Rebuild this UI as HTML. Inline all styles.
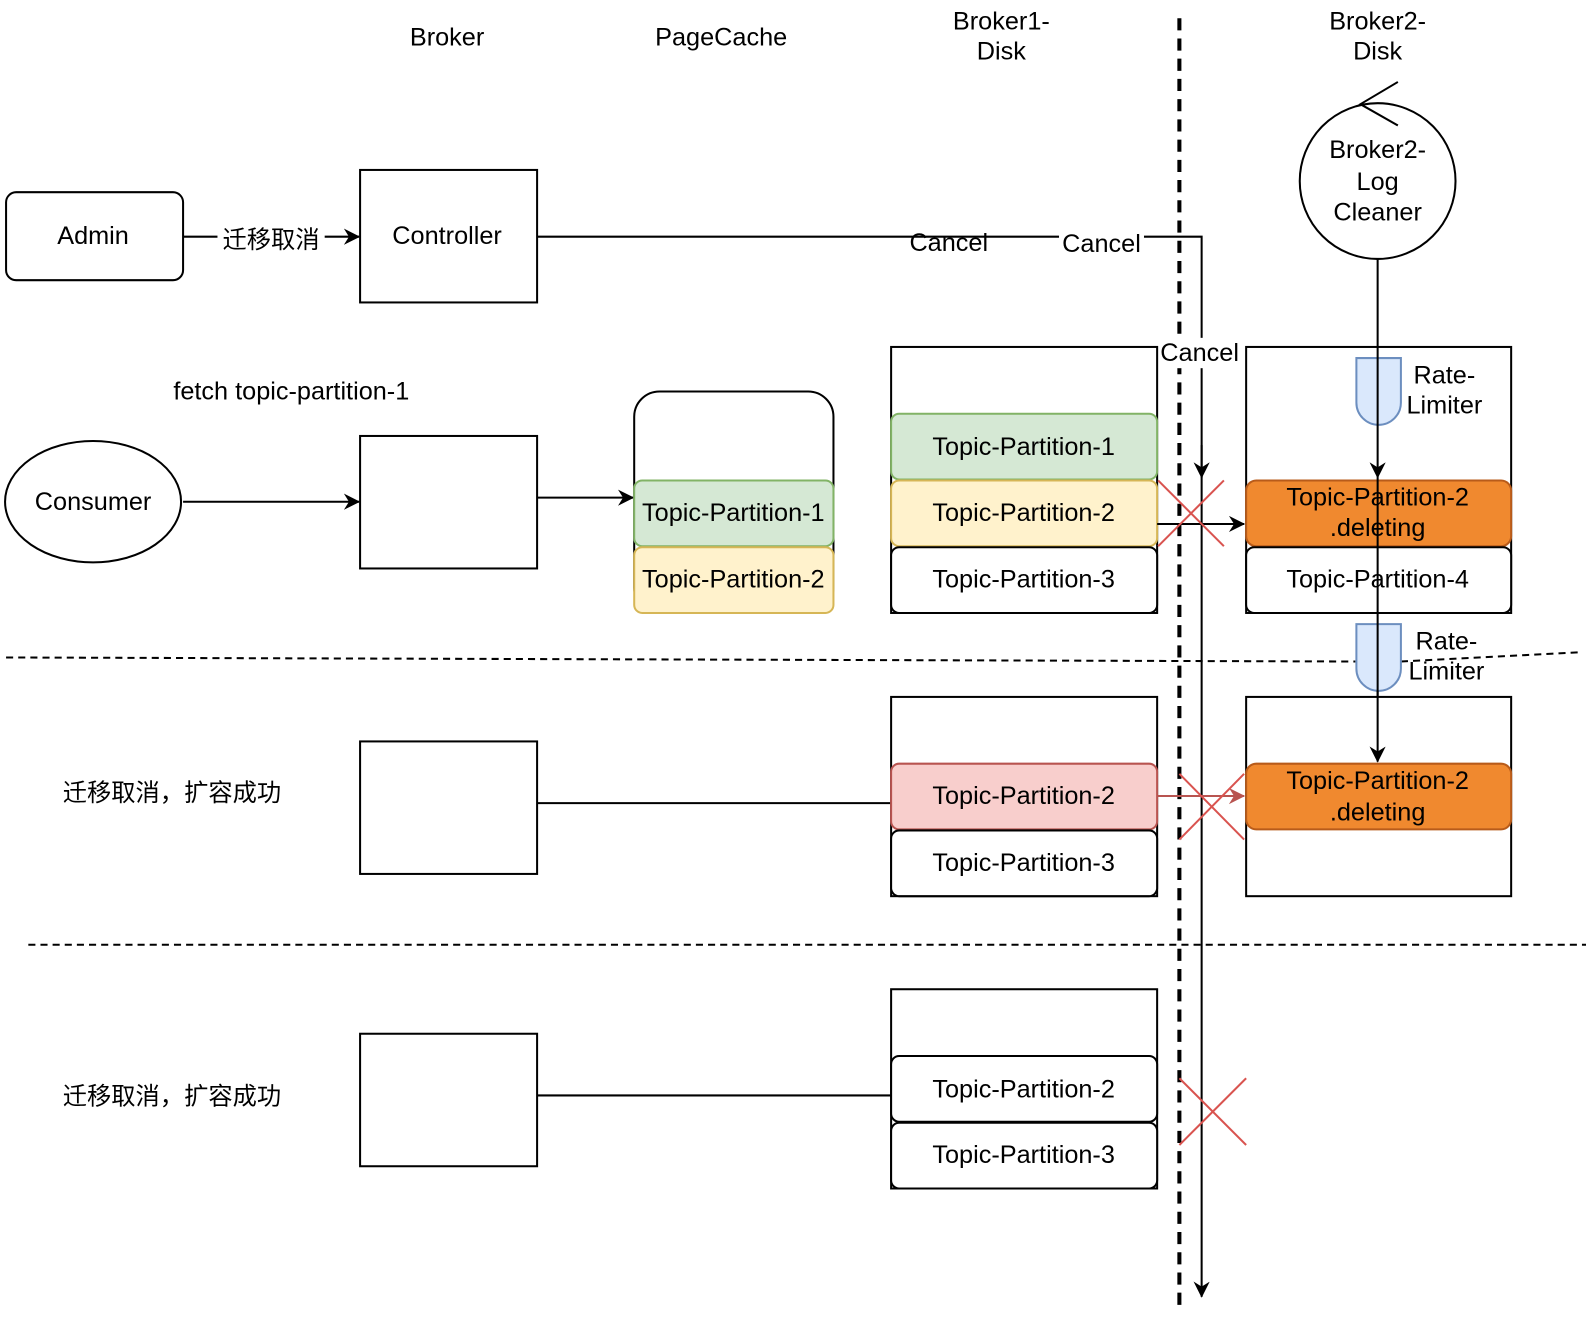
<!DOCTYPE html>
<html><head><meta charset="utf-8"><style>
html,body{margin:0;padding:0;background:#fff;}
svg{display:block;}
text{font-family:"Liberation Sans","Noto Sans CJK SC",sans-serif;font-size:25px;fill:#000;}
.cn{font-size:24px;}
</style></head><body>
<svg width="1586" height="1320" viewBox="0 0 1568 1305" xmlns="http://www.w3.org/2000/svg">
<defs>
<marker id="a" markerWidth="18" markerHeight="18" refX="15" refY="8" orient="auto" markerUnits="userSpaceOnUse"><path d="M0,0 L16,8 L0,16 L5,8 Z" fill="#000"/></marker>
<marker id="r" markerWidth="18" markerHeight="18" refX="15" refY="8" orient="auto" markerUnits="userSpaceOnUse"><path d="M0,0 L16,8 L0,16 L5,8 Z" fill="#b85450"/></marker>
</defs>
<g text-anchor="middle">
<text x="442" y="45">Broker</text>
<text x="713" y="45">PageCache</text>
<text x="990" y="29">Broker1-</text><text x="990" y="59">Disk</text>
<text x="1362" y="29">Broker2-</text><text x="1362" y="59">Disk</text>
</g>
<line x1="1166" y1="18" x2="1166" y2="1295" stroke="#000" stroke-width="4" stroke-dasharray="12,8"/>
<line x1="6" y1="650" x2="1340" y2="654" stroke="#000" stroke-width="2" stroke-dasharray="7,5"/>
<line x1="1385" y1="654" x2="1560" y2="645" stroke="#000" stroke-width="2" stroke-dasharray="7,5"/>
<line x1="28" y1="934" x2="1568" y2="934" stroke="#000" stroke-width="2" stroke-dasharray="7,5"/>

<rect x="6" y="190" width="175" height="87" rx="10" fill="#fff" stroke="#000" stroke-width="2"/>
<text x="92" y="241" text-anchor="middle">Admin</text>
<line x1="181" y1="234" x2="355" y2="234" stroke="#000" stroke-width="2" marker-end="url(#a)"/>
<rect x="215" y="222" width="106" height="28" fill="#fff"/>
<text class="cn" x="268" y="245" text-anchor="middle">迁移取消</text>
<rect x="356" y="168" width="175" height="131" fill="#fff" stroke="#000" stroke-width="2"/>
<text x="442" y="241" text-anchor="middle">Controller</text>

<polyline points="531,234 1188,234 1188,1282" fill="none" stroke="#000" stroke-width="2" marker-end="url(#a)"/>
<line x1="1188" y1="440" x2="1188" y2="472" stroke="#000" stroke-width="2" marker-end="url(#a)"/>
<text x="938" y="248" text-anchor="middle">Cancel</text>
<rect x="1047" y="226" width="84" height="28" fill="#fff"/>
<text x="1089" y="249" text-anchor="middle">Cancel</text>
<rect x="1144" y="334" width="84" height="30" fill="#fff"/>
<text x="1186" y="357" text-anchor="middle">Cancel</text>

<circle cx="1362" cy="179" r="77" fill="#fff" stroke="#000" stroke-width="2"/>
<polyline points="1382,81 1345,103 1382,124" fill="none" stroke="#000" stroke-width="2"/>
<g text-anchor="middle"><text x="1362" y="156">Broker2-</text><text x="1362" y="188">Log</text><text x="1362" y="218">Cleaner</text></g>

<text x="288" y="395" text-anchor="middle">fetch topic-partition-1</text>
<ellipse cx="92" cy="496" rx="87" ry="60" fill="#fff" stroke="#000" stroke-width="2"/>
<text x="92" y="504" text-anchor="middle">Consumer</text>
<line x1="181" y1="496" x2="355" y2="496" stroke="#000" stroke-width="2" marker-end="url(#a)"/>
<rect x="356" y="431" width="175" height="131" fill="#fff" stroke="#000" stroke-width="2"/>
<line x1="531" y1="492" x2="626" y2="492" stroke="#000" stroke-width="2" marker-end="url(#a)"/>

<rect x="627" y="387" width="197" height="219" rx="25" fill="#fff" stroke="#000" stroke-width="2"/>
<rect x="627" y="475" width="197" height="65" rx="8" fill="#d5e8d4" stroke="#82b366" stroke-width="2"/>
<rect x="627" y="541" width="197" height="65" rx="8" fill="#fff2cc" stroke="#d6b656" stroke-width="2"/>
<g text-anchor="middle"><text x="725" y="515">Topic-Partition-1</text><text x="725" y="581">Topic-Partition-2</text></g>

<rect x="881" y="343" width="263" height="263" fill="#fff" stroke="#000" stroke-width="2"/>
<rect x="881" y="409" width="263" height="65" rx="8" fill="#d5e8d4" stroke="#82b366" stroke-width="2"/>
<rect x="881" y="475" width="263" height="65" rx="8" fill="#fff2cc" stroke="#d6b656" stroke-width="2"/>
<rect x="881" y="541" width="263" height="65" rx="8" fill="#fff" stroke="#000" stroke-width="2"/>
<g text-anchor="middle"><text x="1012" y="450">Topic-Partition-1</text><text x="1012" y="515">Topic-Partition-2</text><text x="1012" y="581">Topic-Partition-3</text></g>
<line x1="1144" y1="518" x2="1230" y2="518" stroke="#000" stroke-width="2" marker-end="url(#a)"/>
<line x1="1145" y1="475" x2="1210" y2="540" stroke="#d9534f" stroke-width="2"/>
<line x1="1210" y1="475" x2="1145" y2="540" stroke="#d9534f" stroke-width="2"/>

<rect x="1232" y="343" width="262" height="263" fill="#fff" stroke="#000" stroke-width="2"/>
<rect x="1232" y="475" width="262" height="65" rx="10" fill="#f0892f" stroke="#b85b1a" stroke-width="2"/>
<rect x="1232" y="541" width="262" height="65" rx="8" fill="#fff" stroke="#000" stroke-width="2"/>
<g text-anchor="middle"><text x="1362" y="500">Topic-Partition-2</text><text x="1362" y="530">.deleting</text><text x="1362" y="581">Topic-Partition-4</text></g>
<path d="M1341,354 H1385 V398 A22,22 0 0 1 1341,398 Z" fill="#dae8fc" stroke="#6c8ebf" stroke-width="2"/>
<path d="M1341,617 H1385 V661 A22,22 0 0 1 1341,661 Z" fill="#dae8fc" stroke="#6c8ebf" stroke-width="2"/>
<line x1="1362" y1="256" x2="1362" y2="472" stroke="#000" stroke-width="2" marker-end="url(#a)"/>
<line x1="1362" y1="472" x2="1362" y2="753" stroke="#000" stroke-width="2" marker-end="url(#a)"/>
<g text-anchor="middle"><text x="1428" y="379">Rate-</text><text x="1428" y="409">Limiter</text><text x="1430" y="642">Rate-</text><text x="1430" y="672">Limiter</text></g>

<text class="cn" x="170" y="792" text-anchor="middle">迁移取消，扩容成功</text>
<rect x="356" y="733" width="175" height="131" fill="#fff" stroke="#000" stroke-width="2"/>
<line x1="531" y1="794" x2="881" y2="794" stroke="#000" stroke-width="2"/>
<rect x="881" y="689" width="263" height="197" fill="#fff" stroke="#000" stroke-width="2"/>
<rect x="881" y="755" width="263" height="65" rx="8" fill="#f8cecc" stroke="#b85450" stroke-width="2"/>
<rect x="881" y="821" width="263" height="65" rx="8" fill="#fff" stroke="#000" stroke-width="2"/>
<g text-anchor="middle"><text x="1012" y="795">Topic-Partition-2</text><text x="1012" y="861">Topic-Partition-3</text></g>
<line x1="1144" y1="787" x2="1230" y2="787" stroke="#b85450" stroke-width="2" marker-end="url(#r)"/>
<line x1="1166" y1="765" x2="1230" y2="830" stroke="#d9534f" stroke-width="2"/>
<line x1="1230" y1="765" x2="1166" y2="830" stroke="#d9534f" stroke-width="2"/>
<rect x="1232" y="689" width="262" height="197" fill="#fff" stroke="#000" stroke-width="2"/>
<rect x="1232" y="755" width="262" height="65" rx="10" fill="#f0892f" stroke="#b85b1a" stroke-width="2"/>
<g text-anchor="middle"><text x="1362" y="780">Topic-Partition-2</text><text x="1362" y="811">.deleting</text></g>
<line x1="1362" y1="683" x2="1362" y2="753" stroke="#000" stroke-width="2" marker-end="url(#a)"/>

<text class="cn" x="170" y="1092" text-anchor="middle">迁移取消，扩容成功</text>
<rect x="356" y="1022" width="175" height="131" fill="#fff" stroke="#000" stroke-width="2"/>
<line x1="531" y1="1083" x2="881" y2="1083" stroke="#000" stroke-width="2"/>
<rect x="881" y="978" width="263" height="197" fill="#fff" stroke="#000" stroke-width="2"/>
<rect x="881" y="1044" width="263" height="65" rx="8" fill="#fff" stroke="#000" stroke-width="2"/>
<rect x="881" y="1110" width="263" height="65" rx="8" fill="#fff" stroke="#000" stroke-width="2"/>
<g text-anchor="middle"><text x="1012" y="1085">Topic-Partition-2</text><text x="1012" y="1150">Topic-Partition-3</text></g>
<line x1="1166" y1="1066" x2="1232" y2="1132" stroke="#d9534f" stroke-width="2"/>
<line x1="1232" y1="1066" x2="1166" y2="1132" stroke="#d9534f" stroke-width="2"/>
</svg>
</body></html>
